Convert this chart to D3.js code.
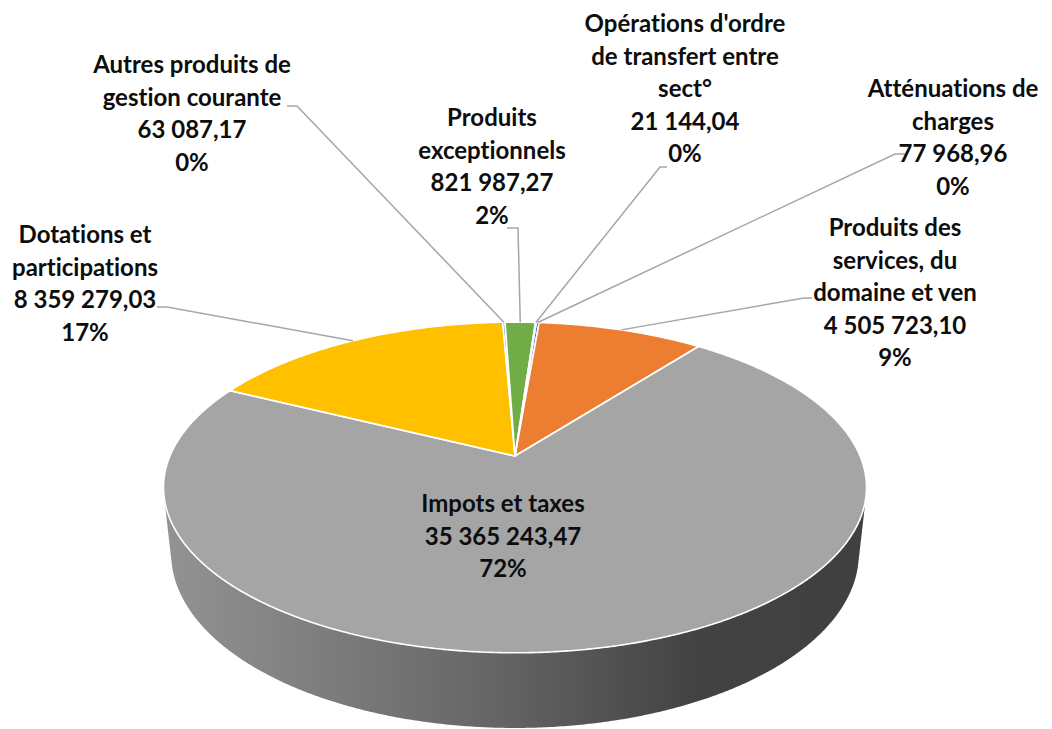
<!DOCTYPE html>
<html><head><meta charset="utf-8">
<script src="https://cdn.jsdelivr.net/npm/d3@7"></script>
<style>html,body{margin:0;padding:0;background:#fff;}svg{display:block;}text{font-variant-ligatures:none;font-feature-settings:"liga" 0,"dlig" 0;}</style>
</head><body>
<svg id="chart" width="1052" height="729"></svg>
<script>
// ---- data ----
const categories = ["Atténuations de charges","Produits des services, du domaine et ven","Impots et taxes","Dotations et participations","Autres produits de gestion courante","Produits exceptionnels","Opérations d'ordre de transfert entre sect°"];
const values = [77968.96, 4505723.10, 35365243.47, 8359279.03, 63087.17, 821987.27, 21144.04];
const labelLines = [["Atténuations de","charges"],["Produits des","services, du","domaine et ven"],["Impots et taxes"],["Dotations et","participations"],["Autres produits de","gestion courante"],["Produits","exceptionnels"],["Opérations d'ordre","de transfert entre","sect°"]];
const colors = ["#4472C4","#ED7D31","#A5A5A5","#FFC000","#5B9BD5","#70AD47","#264478"];

// ---- layout ----
const layout = {
  cx: 515, cy: 456, D: 4.66, F: 1608, tilt: 27.5*Math.PI/180, H: 0.218,
  startDeg: 4.2,
  labels: [
    {x:953, y:97,  lead:[[905,154],[895,154]]},
    {x:895, y:236, lead:[[812,298],[804,298]]},
    {x:503, y:512, lead:null},
    {x:85,  y:243, lead:[[157,307],[167,307]]},
    {x:192, y:73,  lead:[[287,106],[297,106]]},
    {x:492, y:126, lead:[[507,228],[518,228]]},
    {x:685, y:32,  lead:[[667,167],[660,167]]}
  ],
  lineH: 32.5
};
const C = Math.cos(layout.tilt), S = Math.sin(layout.tilt);
function proj(phi, z){
  const u = Math.sin(phi), v = Math.cos(phi);
  const depth = layout.D + v*C - z*S;
  return [layout.cx + u*layout.F/depth, layout.cy - (v*S + z*C)*layout.F/depth];
}
function center(){ return [layout.cx, layout.cy]; }

const svg = d3.select("#chart");
const total = d3.sum(values);
const fr = d3.formatLocale({decimal:",", thousands:" ", grouping:[3], currency:["","€"]});
const fmtVal = fr.format(",.2f"), fmtPct = fr.format(".0%");

const start = layout.startDeg*Math.PI/180;
const arcs = d3.pie().sort(null).startAngle(start).endAngle(start+2*Math.PI)(values);

function arcPoints(a0, a1, z){
  const n = Math.max(2, Math.ceil(Math.abs(a1-a0)/(0.4*Math.PI/180)));
  return d3.range(n+1).map(i => proj(a0 + (a1-a0)*i/n, z));
}

// side gradient
const defs = svg.append("defs");
const g = defs.append("linearGradient").attr("id","side").attr("gradientUnits","userSpaceOnUse")
  .attr("x1",165).attr("x2",870).attr("y1",0).attr("y2",0);
g.append("stop").attr("offset","0%").attr("stop-color","#939393");
g.append("stop").attr("offset","45%").attr("stop-color","#676767");
g.append("stop").attr("offset","75%").attr("stop-color","#434343");
g.append("stop").attr("offset","100%").attr("stop-color","#404040");

// visible side range
const lim = Math.acos(-1/(layout.D*C));
const visA = lim, visB = 2*Math.PI - lim;
const lineGen = d3.line();
arcs.forEach((a,i) => {
  let s0 = a.startAngle, s1 = a.endAngle;
  const segs = [];
  for (const off of [-2*Math.PI, 0, 2*Math.PI]){
    const lo = Math.max(s0+off, visA), hi = Math.min(s1+off, visB);
    if (hi > lo) segs.push([lo,hi]);
  }
  segs.forEach(([lo,hi]) => {
    const top = arcPoints(lo, hi, 0);
    const bot = arcPoints(hi, lo, -layout.H);
    svg.append("path").attr("d", lineGen(top.concat(bot)) + "Z")
      .attr("fill", i===2 ? "url(#side)" : d3.color(colors[i]).darker(1))
      .attr("stroke", "none");
  });
});

// top face
svg.append("g").selectAll("path").data(arcs).join("path")
  .attr("d", a => lineGen([center()].concat(arcPoints(a.startAngle, a.endAngle, 0))) + "Z")
  .attr("fill", (a,i) => colors[i])
  .attr("stroke", "#fff").attr("stroke-width", 1.6).attr("stroke-linejoin","round");

// leader lines
arcs.forEach((a,i) => {
  const L = layout.labels[i];
  if (!L.lead) return;
  const mid = proj((a.startAngle + a.endAngle)/2, 0);
  svg.append("path").attr("d", lineGen([L.lead[0], L.lead[1], mid]))
    .attr("fill","none").attr("stroke","#a6a6a6").attr("stroke-width",1.5);
});

// labels
arcs.forEach((a,i) => {
  const L = layout.labels[i];
  const lines = labelLines[i].concat([fmtVal(values[i]), fmtPct(values[i]/total)]);
  const t = svg.append("text").attr("x", L.x).attr("y", L.y)
    .attr("text-anchor","middle").attr("font-family","Lato, 'Open Sans', sans-serif")
    .attr("font-weight","bold").attr("font-size","24px").attr("fill","#0d0d0d");
  lines.forEach((ln,k) => t.append("tspan").attr("x", L.x).attr("y", L.y + k*layout.lineH).text(ln));
});
</script>
</body></html>
